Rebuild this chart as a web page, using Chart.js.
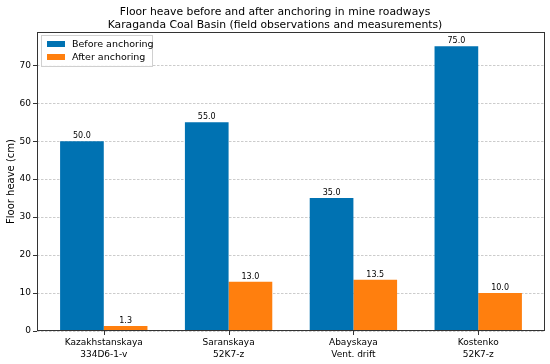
<!DOCTYPE html>
<html><head><meta charset="utf-8">
<script src="https://cdn.jsdelivr.net/npm/chart.js@4/dist/chart.umd.min.js"></script>
<style>html,body{margin:0;padding:0;background:#fff}#wrap{width:550px;height:364px}</style>
</head><body><div id="wrap"><canvas id="c" width="550" height="364"></canvas></div>
<script>
const categories = [["Kazakhstanskaya","334D6-1-v"],["Saranskaya","52K7-z"],["Abayskaya","Vent. drift"],["Kostenko","52K7-z"]];
const beforeValues = [50.0, 55.0, 35.0, 75.0];
const afterValues = [1.3, 13.0, 13.5, 10.0];
const seriesLabels = ["Before anchoring", "After anchoring"];
const yTicks = [0,10,20,30,40,50,60,70];
const titleLines = ["Floor heave before and after anchoring in mine roadways","Karaganda Coal Basin (field observations and measurements)"];

const FONT = "'DejaVu Sans', sans-serif";
const BLUE = '#0072B2', ORANGE = '#FF7F0E';

const valueLabels = {
  id:'valueLabels',
  afterDatasetsDraw(chart){
    const ctx = chart.ctx;
    ctx.save();
    ctx.font = "8px " + FONT;
    ctx.fillStyle = '#000';
    ctx.textAlign = 'center';
    ctx.textBaseline = 'bottom';
    chart.data.datasets.forEach((ds,i)=>{
      chart.getDatasetMeta(i).data.forEach((bar,j)=>{
        ctx.fillText(ds.data[j].y.toFixed(1), bar.x, bar.y - 1);
      });
    });
    ctx.restore();
  }
};
const frameAndLegend = {
  id:'frameAndLegend',
  afterDraw(chart){
    const {ctx, chartArea:a} = chart;
    ctx.save();
    ctx.strokeStyle = '#333';
    ctx.lineWidth = 1;
    ctx.strokeRect(a.left+0.5, a.top+0.5, a.right-a.left-1, a.bottom-a.top-1);
    const xs = chart.scales.x;
    ctx.beginPath();
    categories.forEach((c,i)=>{
      const px = Math.round(xs.getPixelForValue(i)) + 0.5;
      ctx.moveTo(px, a.bottom); ctx.lineTo(px, a.bottom+4);
    });
    ctx.stroke();
    const lx = a.left+4, ly = a.top+3, lw = 111, lh = 31;
    ctx.fillStyle = 'rgba(255,255,255,0.85)';
    ctx.strokeStyle = '#d0d0d0';
    ctx.fillRect(lx, ly, lw, lh);
    ctx.strokeRect(lx+0.5, ly+0.5, lw, lh);
    ctx.font = "9.5px " + FONT;
    ctx.textBaseline = 'middle';
    ctx.textAlign = 'left';
    chart.data.datasets.forEach((ds,i)=>{
      const cy = ly + 9 + i*13;
      ctx.fillStyle = ds.backgroundColor;
      ctx.fillRect(lx+6, cy-3, 18, 6);
      ctx.fillStyle = '#000';
      ctx.fillText(ds.label, lx+31, cy+0.5);
    });
    ctx.restore();
  }
};

new Chart(document.getElementById('c'), {
  type:'bar',
  data:{
    datasets:[
      {label:seriesLabels[0], data:beforeValues.map((v,i)=>({x:i,y:v})), backgroundColor:BLUE},
      {label:seriesLabels[1], data:afterValues.map((v,i)=>({x:i,y:v})), backgroundColor:ORANGE}
    ]
  },
  options:{
    responsive:false, animation:false, devicePixelRatio:1,
    layout:{padding:{left:5,right:5,top:0,bottom:0}},
    datasets:{bar:{categoryPercentage:0.7, barPercentage:1.0}},
    plugins:{
      legend:{display:false},
      tooltip:{enabled:false},
      title:{display:true, text:titleLines, color:'#000', font:{family:FONT, size:10.8, weight:'normal', lineHeight:1.25}, padding:{top:5,bottom:0}}
    },
    scales:{
      x:{
        type:'linear', min:-0.535, max:3.535, offset:false,
        afterBuildTicks(s){ s.ticks = categories.map((c,i)=>({value:i})); },
        afterFit(s){ s.height = 33; },
        ticks:{ color:'#000', font:{family:FONT,size:9, lineHeight:1.3}, padding:2, maxRotation:0, autoSkip:false,
          callback:(v)=>categories[v] },
        grid:{ display:true, drawOnChartArea:false, tickLength:4, tickColor:'rgba(0,0,0,0)', color:'rgba(0,0,0,0)' },
        border:{display:false}
      },
      y:{
        min:0, max:78.75,
        afterBuildTicks(s){ s.ticks = yTicks.map(v=>({value:v})); },
        afterFit(s){ s.width = 32; },
        ticks:{ color:'#000', font:{family:FONT,size:9}, padding:2 },
        title:{display:true, text:'Floor heave (cm)', color:'#000', font:{family:FONT,size:10}, padding:{top:0,bottom:2}},
        grid:{ color:'#cccccc', tickBorderDash:[], tickColor:'#333', tickLength:4 },
        border:{display:false, dash:[2.5,1.5]}
      }
    }
  },
  plugins:[valueLabels, frameAndLegend]
});
</script></body></html>
